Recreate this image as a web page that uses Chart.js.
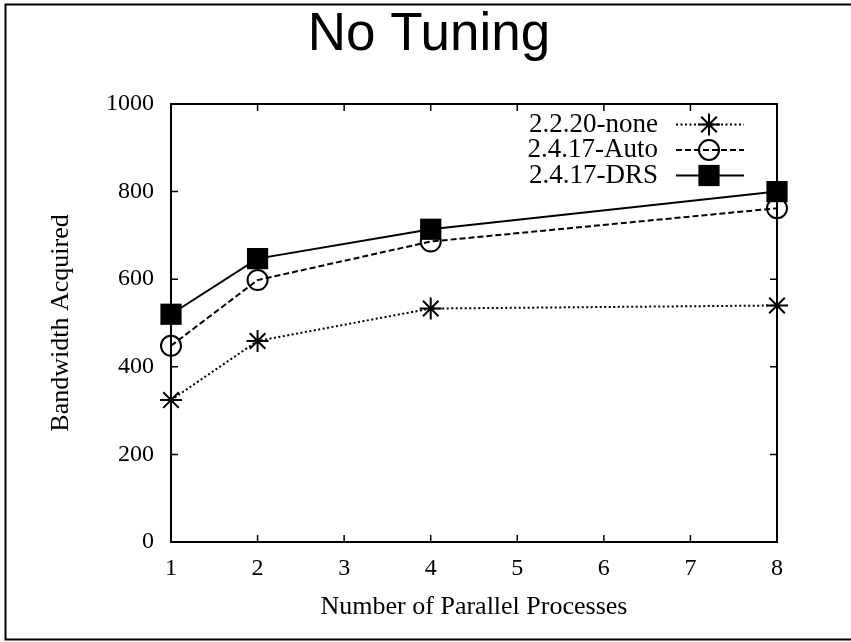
<!DOCTYPE html>
<html>
<head>
<meta charset="utf-8">
<title>No Tuning</title>
<script src="https://cdn.jsdelivr.net/npm/chart.js@4.4.1/dist/chart.umd.min.js"></script>
<style>
  html, body { margin: 0; padding: 0; background: #fff; }
  #wrap { width: 851px; height: 642px; }
</style>
</head>
<body>
<div id="wrap"><canvas id="chart" width="851" height="642"></canvas></div>
<script>
// values
const processes = [1, 2, 4, 8];
const none2220 = [324, 459, 533, 540];
const auto2417 = [448, 598, 686, 762];
const drs2417 = [520, 647, 714, 800];

const seriesNames = ["2.2.20-none", "2.4.17-Auto", "2.4.17-DRS"];
const xTicks = [1, 2, 3, 4, 5, 6, 7, 8];
const yTicks = [0, 200, 400, 600, 800, 1000];

const serif = "'Liberation Serif', 'Times New Roman', serif";

function toPoints(values){
    return processes.map((p, i) => ({ x: p, y: values[i] }));
}

// gnuplot style box: border, mirrored inward ticks, outer frame
const gnuFrame = {
    id: "gnuFrame",
    beforeDatasetsDraw(chart){
        const ctx = chart.ctx;
        const a = chart.chartArea;
        const xs = chart.scales.x;
        const ys = chart.scales.y;
        const len = 7;

        ctx.save();
        ctx.strokeStyle = "#000";
        ctx.lineWidth = 2;

        ctx.beginPath();
        ctx.moveTo(851, 4.5);
        ctx.lineTo(5.5, 4.5);
        ctx.lineTo(5.5, 639.5);
        ctx.lineTo(851, 639.5);
        ctx.stroke();

        ctx.strokeRect(a.left, a.top, a.right - a.left, a.bottom - a.top);

        ctx.lineWidth = 1.5;
        ctx.beginPath();
        xTicks.forEach(v => {
            const px = xs.getPixelForValue(v);
            ctx.moveTo(px, a.bottom); ctx.lineTo(px, a.bottom - len);
            ctx.moveTo(px, a.top); ctx.lineTo(px, a.top + len);
        });
        yTicks.forEach(v => {
            const py = ys.getPixelForValue(v);
            ctx.moveTo(a.left, py); ctx.lineTo(a.left + len, py);
            ctx.moveTo(a.right, py); ctx.lineTo(a.right - len, py);
        });
        ctx.stroke();
        ctx.restore();
    }
};

function marker(ctx, style, r, x, y){
    ctx.beginPath();
    if(style === "rect"){
        const s = r * Math.SQRT1_2;
        ctx.fillRect(x - s, y - s, 2 * s, 2 * s);
        return;
    }
    if(style === "circle"){
        ctx.arc(x, y, r, 0, Math.PI * 2);
        ctx.stroke();
        return;
    }
    const d = r * Math.SQRT1_2;
    ctx.moveTo(x - r, y); ctx.lineTo(x + r, y);
    ctx.moveTo(x, y - r); ctx.lineTo(x, y + r);
    ctx.moveTo(x - d, y - d); ctx.lineTo(x + d, y + d);
    ctx.moveTo(x - d, y + d); ctx.lineTo(x + d, y - d);
    ctx.stroke();
}

// key inside the plot, text left of the sample
const gnuKey = {
    id: "gnuKey",
    afterDatasetsDraw(chart){
        const ctx = chart.ctx;
        const a = chart.chartArea;
        chart.data.datasets.forEach((ds, i) => {
            const y = a.top + 20.5 + i * 25.5;
            ctx.save();
            ctx.fillStyle = "#000";
            ctx.strokeStyle = "#000";
            ctx.font = "27px " + serif;
            ctx.textAlign = "right";
            ctx.textBaseline = "middle";
            ctx.fillText(ds.label, a.right - 119, y);

            ctx.lineWidth = ds.borderWidth;
            ctx.setLineDash(ds.borderDash || []);
            ctx.beginPath();
            ctx.moveTo(a.right - 101, y);
            ctx.lineTo(a.right - 33, y);
            ctx.stroke();
            ctx.setLineDash([]);

            ctx.lineWidth = ds.pointBorderWidth;
            marker(ctx, ds.pointStyle, ds.pointRadius, a.right - 68, y);
            ctx.restore();
        });
    }
};

const ctx = document.getElementById("chart").getContext("2d");

new Chart(ctx, {
    type: "line",
    data: {
        datasets: [
            {
                label: seriesNames[0],
                data: toPoints(none2220),
                borderColor: "#000",
                borderWidth: 2,
                borderDash: [2, 2.5],
                pointStyle: "star",
                pointRadius: 11,
                pointBorderWidth: 2,
                pointBorderColor: "#000",
                pointBackgroundColor: "transparent",
                clip: false
            },
            {
                label: seriesNames[1],
                data: toPoints(auto2417),
                borderColor: "#000",
                borderWidth: 2,
                borderDash: [6, 3],
                pointStyle: "circle",
                pointRadius: 10,
                pointBorderWidth: 2,
                pointBorderColor: "#000",
                pointBackgroundColor: "transparent",
                clip: false
            },
            {
                label: seriesNames[2],
                data: toPoints(drs2417),
                borderColor: "#000",
                borderWidth: 2,
                pointStyle: "rect",
                pointRadius: 15,
                pointBorderWidth: 0,
                pointBorderColor: "#000",
                pointBackgroundColor: "#000",
                clip: false
            }
        ]
    },
    options: {
        responsive: false,
        animation: false,
        devicePixelRatio: 1,
        layout: {
            padding: { left: 7, right: 0, top: 0, bottom: 0 }
        },
        plugins: {
            legend: { display: false },
            tooltip: { enabled: false },
            title: {
                display: true,
                text: "No Tuning",
                color: "#000",
                font: { family: "'Liberation Sans', Arial, sans-serif", size: 53, weight: "normal", lineHeight: 1 },
                padding: { top: 9, bottom: 42 }
            }
        },
        scales: {
            x: {
                type: "linear",
                min: 1,
                max: 8,
                afterBuildTicks: s => { s.ticks = xTicks.map(v => ({ value: v })); },
                afterFit: s => { s.height = 100; },
                grid: { display: false, drawTicks: false },
                border: { display: false },
                ticks: {
                    color: "#000",
                    padding: 12,
                    font: { family: serif, size: 24 },
                    callback: v => String(v)
                },
                title: {
                    display: true,
                    text: "Number of Parallel Processes",
                    color: "#000",
                    font: { family: serif, size: 26 },
                    padding: { top: 0, bottom: 19 }
                }
            },
            y: {
                type: "linear",
                min: 0,
                max: 1000,
                afterBuildTicks: s => { s.ticks = yTicks.map(v => ({ value: v })); },
                afterFit: s => { s.width = 164; },
                grid: { display: false, drawTicks: false },
                border: { display: false },
                ticks: {
                    color: "#000",
                    padding: 17,
                    font: { family: serif, size: 24 },
                    callback: v => String(v)
                },
                title: {
                    display: true,
                    text: "Bandwidth Acquired",
                    color: "#000",
                    font: { family: serif, size: 26 },
                    padding: { top: 39, bottom: 0 }
                }
            },
            // empty right axis, only reserves the margin right of the plot
            yRight: {
                type: "linear",
                position: "right",
                min: 0,
                max: 1000,
                afterFit: s => { s.width = 74; },
                grid: { display: false, drawTicks: false },
                border: { display: false },
                ticks: { display: false }
            }
        }
    },
    plugins: [gnuFrame, gnuKey]
});
</script>
</body>
</html>
